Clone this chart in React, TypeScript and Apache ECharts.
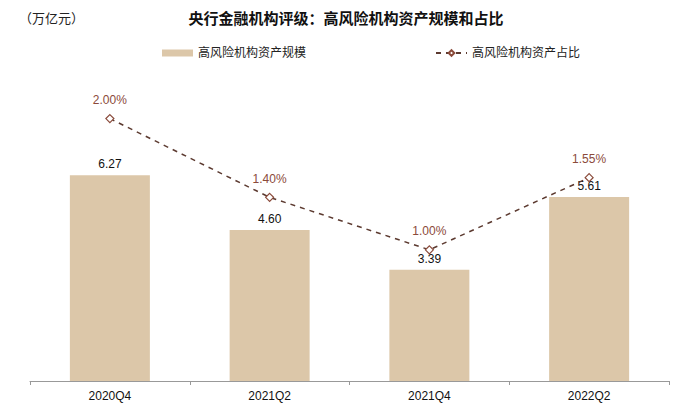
import React, { useEffect, useRef } from "react";
import * as echarts from "echarts";

const categories = ["2020Q4", "2021Q2", "2021Q4", "2022Q2"];
const assetScale = [6.27, 4.6, 3.39, 5.61];
const assetShare = [2.0, 1.4, 1.0, 1.55];
const barName = "高风险机构资产规模";
const lineName = "高风险机构资产占比";

export default function App() {
  const ref = useRef<HTMLDivElement>(null);
  useEffect(() => {
    const chart = echarts.init(ref.current!, null, { renderer: "svg" });
    const font = "'Liberation Sans', Arial, 'Noto Sans CJK SC', sans-serif";
    chart.setOption({
      animation: false,
      textStyle: { fontFamily: font },
      title: [
        {
          text: "央行金融机构评级：高风险机构资产规模和占比",
          left: 341,
          top: 6,
          textAlign: "center",
          textStyle: { fontSize: 15, fontWeight: "bold", color: "#111", fontFamily: font },
        },
        {
          text: "（万亿元）",
          left: 14,
          top: 7,
          textStyle: { fontSize: 13, fontWeight: "normal", color: "#222", fontFamily: font },
        },
      ],
      legend: {
        left: 157,
        top: 42,
        itemGap: 129,
        itemWidth: 31,
        itemHeight: 7,
        textStyle: { fontSize: 12, color: "#222", fontFamily: font },
        data: [
          { name: barName, icon: "rect" },
          { name: lineName },
        ],
      },
      grid: { left: 30, right: 31, top: 53, bottom: 39 },
      xAxis: {
        type: "category",
        data: categories,
        axisLine: { lineStyle: { color: "#999" } },
        axisTick: { show: true, length: 4, lineStyle: { color: "#999" } },
        axisLabel: { color: "#111", fontSize: 12, margin: 9 },
      },
      yAxis: [
        { type: "value", min: 0, max: 10, show: false, splitLine: { show: false } },
        { type: "value", min: 0, max: 2.5, show: false, splitLine: { show: false } },
      ],
      series: [
        {
          name: barName,
          type: "bar",
          data: assetScale,
          barWidth: 80,
          itemStyle: { color: "#dcc7a9" },
          label: {
            show: true,
            position: "top",
            distance: 5,
            color: "#111",
            fontSize: 12,
            formatter: (p: any) => p.value.toFixed(2),
          },
        },
        {
          name: lineName,
          type: "line",
          yAxisIndex: 1,
          data: assetShare,
          symbol: "diamond",
          symbolSize: 8,
          lineStyle: { type: [5, 5], width: 1.5, color: "#5c3a30" },
          itemStyle: { color: "#fff", borderColor: "#8a4a3a", borderWidth: 1.2 },
          label: {
            show: true,
            position: "top",
            distance: 8,
            color: "#8b4a3a",
            fontSize: 12,
            formatter: (p: any) => p.value.toFixed(2) + "%",
          },
        },
      ],
    });
    return () => chart.dispose();
  }, []);
  return (
    <div
      ref={ref}
      style={{ position: "absolute", left: 0, top: 0, width: 700, height: 420 }}
    />
  );
}
